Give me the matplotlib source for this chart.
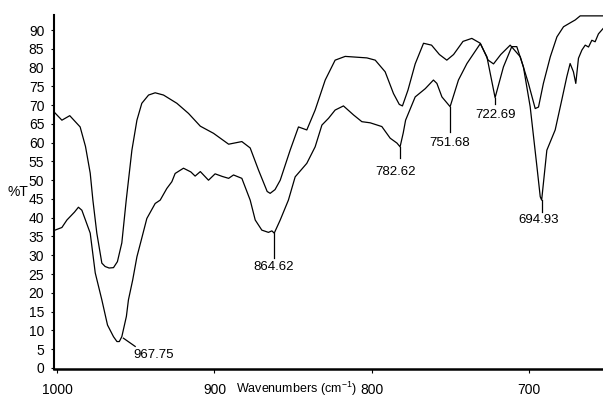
import matplotlib
matplotlib.use("Agg")
import matplotlib.pyplot as plt

plt.rcParams["font.family"] = ["Liberation Sans", "DejaVu Sans"]
plt.rcParams["mathtext.fontset"] = "custom"
plt.rcParams["mathtext.rm"] = "Liberation Sans"
plt.rcParams["mathtext.default"] = "regular"

# upper spectrum (unlabelled)
wn_a = [1002, 997, 992, 985.4, 982, 979, 977.3, 974.8, 971.6, 969.5, 967, 964.2,
        961.7, 958.9, 956.1, 952.5, 949.3, 946.2, 941.9, 937.7, 932.4, 923.9,
        916.5, 909, 900.6, 891, 882.6, 877.3, 872, 866.5, 864.6, 861.5, 858.2,
        851.9, 846.6, 841.3, 836, 829.6, 823.3, 816.9, 803.1, 797.8, 791.5,
        786.2, 782.5, 780.5, 777, 772.4, 767.1, 762, 757, 752.3, 748, 742,
        736.4, 731, 726, 722.6, 718, 712, 705.6, 700.4, 696.1, 694, 690.9,
        686.5, 682.3, 678.1, 672.8, 670.7, 667.5, 652]
t_a = [68.2, 66.0, 67.2, 64.2, 59.0, 51.9, 44.7, 35.9, 27.9, 27.0, 26.6, 26.7,
       28.3, 33.3, 44.7, 58.0, 66.0, 70.5, 72.7, 73.3, 72.7, 70.5,
       67.8, 64.4, 62.5, 59.6, 60.3, 58.6, 52.7, 47.0, 46.5, 47.5, 50.0,
       58.0, 64.2, 63.4, 68.7, 76.7, 82.0, 83.0, 82.6, 82.0, 78.9,
       73.1, 70.2, 69.8, 74.0, 81.0, 86.5, 86.0, 83.5, 82.0, 83.5, 87.0,
       87.8, 86.5, 82.0, 81.0, 83.5, 86.0, 82.9, 75.8, 69.1, 69.5, 75.8,
       82.9, 88.2, 90.9, 92.2, 92.7, 93.8, 93.8]

# lower spectrum (peak-labelled)
wn_b = [1002, 997, 993.8, 989, 986.5, 984.3, 979, 975.8, 971.6, 968, 964.2,
        962, 960.5, 958.9, 956, 954.7, 952, 949.3, 946.5, 943, 937.7, 934.5,
        930.3, 927.1, 925, 919.7, 915, 912.3, 909, 903.8, 899.6, 895, 891,
        887.9, 882.6, 877.3, 874.1, 869.9, 865.7, 863.5, 862, 858.2, 853,
        848.7, 841.3, 836, 831.7, 827.5, 823.3, 818, 811.6, 806.3, 801, 793.6,
        788.3, 784, 782, 780, 778.5, 772.4, 766, 760.8, 758.6, 755.4, 750.2,
        744.9, 739.5, 731, 726.8, 721.6, 716.3, 711, 707.8, 703.6, 699.3, 695,
        692.9, 692, 688.7, 683.4, 679.2, 676, 673.9, 671.8, 670.3, 668.6,
        666.4, 664.3, 662.2, 660.1, 658, 655.9, 653]
t_b = [36.6, 37.4, 39.4, 41.5, 42.8, 42.0, 35.9, 25.3, 18.1, 11.4, 8.3,
       7.0, 7.0, 8.3, 13.7, 18.1, 23.4, 29.6, 34.1, 39.8, 43.8, 44.7,
       47.8, 49.6, 51.8, 53.2, 52.2, 51.1, 52.3, 50.0, 51.7, 51.0, 50.5,
       51.4, 50.5, 44.7, 39.4, 36.7, 36.1, 36.5, 35.9, 39.4, 44.7,
       50.9, 54.5, 58.9, 64.7, 66.5, 68.7, 69.8, 67.4, 65.6, 65.3, 64.3,
       61.2, 59.9, 58.9, 62.6, 66.0, 72.2, 74.4, 76.7, 75.8, 72.2, 69.6,
       76.7, 81.1, 86.4, 82.9, 72.0, 80.2, 85.6, 85.6, 80.2, 69.6, 53.6,
       45.6, 44.7, 58.0, 63.4, 71.4, 77.6, 81.1, 78.9, 75.8, 82.5,
       84.7, 86.0, 85.5, 87.3, 86.9, 89.0, 90.4]

# peak labels: text, line start (wn, %T), line end, text centre
peak_labels = ["967.75", "864.62", "782.62", "751.68", "722.69", "694.93"]
peak_line_from = [(957.9, 7.9), (862.0, 35.9), (782.0, 58.9), (750.2, 69.6), (721.6, 72.0), (692.0, 44.7)]
peak_line_to = [(950.4, 5.7), (862.0, 29.3), (782.0, 55.8), (750.2, 62.9), (721.6, 70.2), (692.0, 41.6)]
peak_text_at = [(951.5, 3.4), (862.7, 27.0), (785.1, 52.3), (750.4, 59.8), (721.0, 67.4), (694.2, 39.4)]

fig = plt.figure(figsize=(6.03, 3.98), dpi=100)
ax = fig.add_axes([0.0896, 0.073, 0.9104, 0.889])

ax.plot(wn_a, t_a, color="black", lw=0.9)
ax.plot(wn_b, t_b, color="black", lw=0.9)

for i, lab in enumerate(peak_labels):
    (x0, y0), (x1, y1) = peak_line_from[i], peak_line_to[i]
    ax.plot([x0, x1], [y0, y1], color="black", lw=0.9)
    tx, ty = peak_text_at[i]
    ha = "left" if i == 0 else "center"
    ax.text(tx, ty, lab, ha=ha, va="center", fontsize=9.5)

ax.set_xlim(1002, 653)
ax.set_ylim(-0.3, 94)
ax.set_yticks(range(0, 95, 5))
ax.set_xticks([1000, 900, 800, 700])
ax.tick_params(axis="y", length=2, width=0.8, pad=5, labelsize=10)
ax.tick_params(axis="x", length=3, width=0.8, pad=7, labelsize=10)

for side in ["top", "right"]:
    ax.spines[side].set_visible(False)
ax.spines["left"].set_linewidth(1.5)
ax.spines["bottom"].set_linewidth(1.8)

ax.text(0.441, -0.057, "Wavenumbers (cm$^{-1}$)", transform=ax.transAxes,
        ha="center", va="center", fontsize=9)
fig.text(17.5 / 603, 1 - 192 / 398, "%T", ha="center", va="center", fontsize=10)

fig.savefig("out.png", dpi=100)
